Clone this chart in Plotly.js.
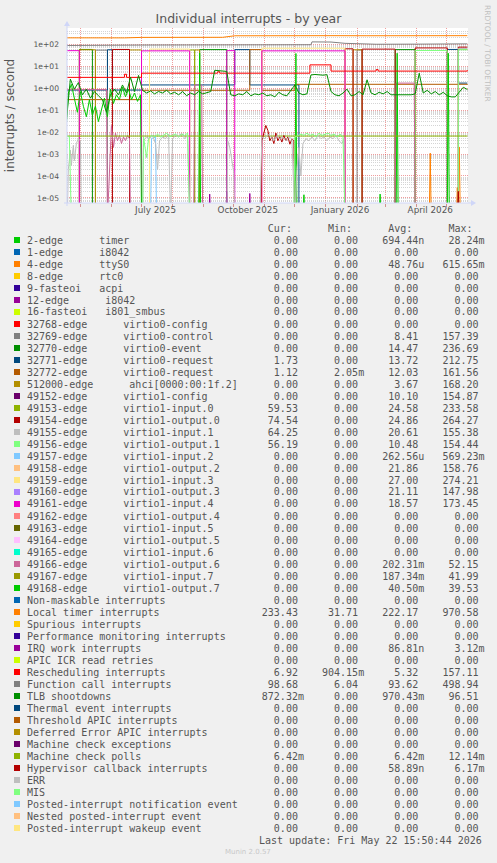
<!DOCTYPE html>
<html><head><meta charset="utf-8">
<script src="https://cdn.plot.ly/plotly-3.0.1.min.js"></script>
<style>html,body{margin:0;padding:0;background:#F0F0F0;}#chart{width:497px;height:863px;}</style>
</head><body><div id="chart"></div>
<script>
// ---------------- DATA ----------------
const SERIES_NAMES = [
 '2-edge      timer','1-edge      i8042','4-edge      ttyS0','8-edge      rtc0','9-fasteoi   acpi',
 '12-edge      i8042','16-fasteoi   i801_smbus','32768-edge      virtio0-config','32769-edge      virtio0-control',
 '32770-edge      virtio0-event','32771-edge      virtio0-request','32772-edge      virtio0-request',
 '512000-edge      ahci[0000:00:1f.2]','49152-edge      virtio1-config','49153-edge      virtio1-input.0',
 '49154-edge      virtio1-output.0','49155-edge      virtio1-input.1','49156-edge      virtio1-output.1',
 '49157-edge      virtio1-input.2','49158-edge      virtio1-output.2','49159-edge      virtio1-input.3',
 '49160-edge      virtio1-output.3','49161-edge      virtio1-input.4','49162-edge      virtio1-output.4',
 '49163-edge      virtio1-input.5','49164-edge      virtio1-output.5','49165-edge      virtio1-input.6',
 '49166-edge      virtio1-output.6','49167-edge      virtio1-input.7','49168-edge      virtio1-output.7',
 'Non-maskable interrupts','Local timer interrupts','Spurious interrupts','Performance monitoring interrupts',
 'IRQ work interrupts','APIC ICR read retries','Rescheduling interrupts','Function call interrupts',
 'TLB shootdowns','Thermal event interrupts','Threshold APIC interrupts','Deferred Error APIC interrupts',
 'Machine check exceptions','Machine check polls','Hypervisor callback interrupts','ERR','MIS',
 'Posted-interrupt notification event','Nested posted-interrupt event','Posted-interrupt wakeup event'];
const SERIES_COLORS = ['#00CC00','#0066B3','#FF8000','#FFCC00','#330099','#990099','#CCFF00','#FF0000','#808080','#008F00',
 '#00487D','#B35A00','#B38F00','#6B006B','#8FB300','#B30000','#BEBEBE','#80FF80','#80C9FF','#FFC080',
 '#FFE680','#AA80FF','#EE00CC','#FF8080','#666600','#FFBFFF','#00FFCC','#CC6699','#999900','#00CC00',
 '#0066B3','#FF8000','#FFCC00','#330099','#990099','#CCFF00','#FF0000','#808080','#008F00','#00487D',
 '#B35A00','#B38F00','#6B006B','#8FB300','#B30000','#BEBEBE','#80FF80','#80C9FF','#FFC080','#FFE680'];
const STAT_CUR = ['0.00','0.00','0.00','0.00','0.00','0.00','0.00','0.00','0.00','0.00','1.73','1.12','0.00','0.00',
 '59.53','74.54','64.25','56.19','0.00','0.00','0.00','0.00','0.00','0.00','0.00','0.00','0.00','0.00','0.00','0.00',
 '0.00','233.43','0.00','0.00','0.00','0.00','6.92','98.68','872.32m','0.00','0.00','0.00','0.00','6.42m','0.00',
 '0.00','0.00','0.00','0.00','0.00'];
const STAT_MIN = ['0.00','0.00','0.00','0.00','0.00','0.00','0.00','0.00','0.00','0.00','0.00','2.05m','0.00','0.00',
 '0.00','0.00','0.00','0.00','0.00','0.00','0.00','0.00','0.00','0.00','0.00','0.00','0.00','0.00','0.00','0.00',
 '0.00','31.71','0.00','0.00','0.00','0.00','904.15m','6.04','0.00','0.00','0.00','0.00','0.00','0.00','0.00',
 '0.00','0.00','0.00','0.00','0.00'];
const STAT_AVG = ['694.44n','0.00','48.76u','0.00','0.00','0.00','0.00','0.00','8.41','14.47','13.72','12.03','3.67','10.10',
 '24.58','24.86','20.61','10.48','262.56u','21.86','27.00','21.11','18.57','0.00','0.00','0.00','0.00','202.31m','187.34m','40.50m',
 '0.00','222.17','0.00','0.00','86.81n','0.00','5.32','93.62','970.43m','0.00','0.00','0.00','0.00','6.42m','58.89n',
 '0.00','0.00','0.00','0.00','0.00'];
const STAT_MAX = ['28.24m','0.00','615.65m','0.00','0.00','0.00','0.00','0.00','157.39','236.69','212.75','161.56','168.20','154.87',
 '233.58','264.27','155.38','154.44','569.23m','158.76','274.21','147.98','173.45','0.00','0.00','0.00','0.00','52.15','41.99','39.53',
 '0.00','970.58','0.00','0.00','3.12m','0.00','157.11','498.94','96.51','0.00','0.00','0.00','0.00','12.14m','6.17m',
 '0.00','0.00','0.00','0.00','0.00'];

const X_START = '2025-04-17 15:50';
const X_END = '2026-05-22 15:50';
const X_LABEL_AT = ['2025-07-15','2025-10-15','2026-01-15','2026-04-15'];
const X_LABELS = ['July 2025','October 2025','January 2026','April 2026'];
const MONTH_STARTS = ['2025-05-01','2025-06-01','2025-07-01','2025-08-01','2025-09-01','2025-10-01','2025-11-01','2025-12-01',
 '2026-01-01','2026-02-01','2026-03-01','2026-04-01','2026-05-01'];
const Y_TICKS = [1e-5,1e-4,1e-3,1e-2,1e-1,1,10,100];
const Y_LABELS = ['1e-05','1e-04','1e-03','1e-02','1e-01','1e+00','1e+01','1e+02'];

// 2-edge timer (tiny spikes)
const timerT = ['2025-04-17','2025-08-27','2025-08-28','2025-08-29','2025-12-09','2025-12-10','2025-12-11','2026-02-23','2026-02-24','2026-02-25','2026-05-22'];
const timerV = [0,0,1.3e-5,0,0,1.4e-5,0,0,1.5e-5,0,0];
// 4-edge ttyS0
const ttyT = ['2025-04-17','2026-04-14','2026-04-15','2026-04-16','2026-05-11','2026-05-12','2026-05-13','2026-05-14','2026-05-15','2026-05-22'];
const ttyV = [0,0,1.1e-3,0,0,3e-5,0,2.1e-3,0,0];
// 32769 virtio0-control (steps)
const vctlT = ['2025-04-17','2025-05-16','2025-05-28','2026-02-01','2026-02-06','2026-05-22'];
const vctlV = [0,54,0,55,0,0];
// 32770 virtio0-event (steps)
const vevT = ['2025-04-17','2025-04-30','2025-05-13','2025-08-28','2025-09-24','2026-03-11','2026-03-31','2026-05-22'];
const vevV = [0,58,0,57,0,57,0,0];
// 32771 virtio0-request (steps)
const vr1T = ['2025-04-17','2025-05-28','2025-06-02','2025-07-01','2025-10-02','2025-10-17','2025-12-05','2026-05-02','2026-05-13','2026-05-22'];
const vr1V = [0.82,56,0.82,1.4,57,1.4,0,58,1.7,1.7];
// 32772 virtio0-request (steps)
const vr2T = ['2025-04-17','2025-07-01','2025-10-17','2025-10-29','2025-12-01','2026-05-22'];
const vr2V = [0.3,0.8,57,0.8,1.5,1.4];
// 512000 ahci (steps)
const ahciT = ['2025-04-17','2025-04-30','2025-05-16','2025-06-19','2025-07-01','2025-08-23','2025-08-28','2026-01-28','2026-02-06','2026-05-22'];
const ahciV = [0,56,0,55,0,55,0,56,0,0];
// 49153 input.0 (steps)
const in0T = ['2025-04-17','2025-08-18','2025-08-23','2026-05-13','2026-05-22'];
const in0V = [0,55,0,60,60];
// 49154 output.0 (steps)
const out0T = ['2025-04-17','2025-06-02','2025-06-19','2026-01-20','2026-01-28','2026-02-06','2026-03-11','2026-03-31','2026-05-02','2026-05-13','2026-05-22'];
const out0V = [0,58,0,62,0,60,0,68,0,74,74];
// 49155 input.1 (steps)
const in1T = ['2025-04-17','2026-05-13','2026-05-22'];
const in1V = [0,64,64];
// 49156 output.1 (steps)
const out1T = ['2025-04-17','2026-03-31','2026-05-02','2026-05-13','2026-05-22'];
const out1V = [0,52,0,56,56];
// 49157 input.2
const in2T = ['2025-04-17','2025-07-10','2025-07-11','2025-07-15','2025-07-16','2026-05-22'];
const in2V = [0,0,0.005,0.006,0,0];
// 49159 input.3 (steps)
const in3T = ['2025-04-17','2025-07-09','2025-08-18','2025-10-29','2026-01-20','2026-05-22'];
const in3V = [0,60,0,66,0,0];
// 49161 input.4 (steps)
const in4T = ['2025-04-17','2025-04-30','2025-07-01','2025-08-18','2025-09-24','2025-10-02','2025-10-29','2026-01-20','2026-05-22'];
const in4V = [51,0,50,0,51,0,50,0,0];
// 49166 output.6
const out6T = ['2025-04-17','2025-04-25','2025-05-05','2025-05-15','2025-05-27','2025-05-28','2025-06-01','2025-06-03','2025-06-05',
 '2025-06-07','2025-06-09','2025-06-11','2025-06-13','2025-06-15','2025-06-17','2025-06-19','2025-06-20','2025-08-22','2025-08-23',
 '2025-08-30','2025-08-31','2026-03-11','2026-03-12','2026-03-30','2026-03-31','2026-05-22'];
const out6V = [0.85,0.87,0.84,0.86,0.85,0,0.02,0.002,0.009,0.004,0.007,0.003,0.006,0.004,0.007,0.005,0,0,1.4,1.4,0,0,1.7,1.7,0,0];
// 49168 output.7
const out7T = ['2025-04-17','2025-04-19','2025-04-22','2025-04-25','2025-04-28','2025-05-01','2025-05-04','2025-05-07','2025-05-10',
 '2025-05-13','2025-05-16','2025-05-19','2025-05-22','2025-05-25','2025-05-28','2025-05-31','2025-06-03','2025-06-06','2025-06-09',
 '2025-06-12','2025-06-15','2025-06-18','2025-06-21','2025-06-24','2025-06-27','2025-06-30','2025-07-01',
 '2025-08-27','2025-08-28','2025-08-29','2025-12-01','2025-12-02','2025-12-03','2026-03-12','2026-03-13','2026-03-14',
 '2026-05-02','2026-05-03','2026-05-04','2026-05-22'];
const out7V = [0.02,0.6,1.5,0.3,0.08,0.7,0.15,0.05,0.3,0.06,0.15,0.03,0.12,0.35,0.05,0.9,0.2,0.5,0.3,1.1,0.4,0.9,0.3,0.6,0.25,0.5,0,
 0,39,0,0,38,0,0,39,0,0,39,0,0];
// Local timer interrupts
const ltT = ['2025-04-17','2025-05-05','2025-05-25','2025-06-14','2025-07-01','2025-07-20','2025-08-10','2025-09-01','2025-09-20',
 '2025-10-02','2025-10-25','2025-11-20','2025-12-18','2025-12-19','2026-01-07','2026-01-08','2026-02-10','2026-03-15','2026-04-15','2026-05-22'];
const ltV = [196,194,198,195,205,203,206,204,207,243,245,242,244,264,262,246,244,247,245,246];
// IRQ work interrupts
const irqT = ['2025-04-17','2025-09-06','2025-09-07','2025-09-08','2025-09-23','2025-09-24','2025-09-25','2025-10-16','2025-10-17','2025-10-18','2026-05-22'];
const irqV = [0,0,1.5e-5,0,0,2e-5,0,0,1.6e-5,0,0];
// Rescheduling interrupts (steps)
const reschedT = ['2025-04-17','2025-06-14','2025-06-16','2025-07-01','2025-09-15','2025-09-17','2025-12-16','2026-01-06','2026-02-20','2026-02-22','2026-05-22'];
const reschedV = [3.1,4.3,3.1,4.8,5.6,4.8,11.5,6.0,7.0,6.0,6.6];
// Function call interrupts
const fcT = ['2025-04-17','2025-05-20','2025-06-25','2025-07-01','2025-08-15','2025-10-02','2025-11-10','2025-12-17','2025-12-18',
 '2026-01-06','2026-01-20','2026-02-20','2026-04-01','2026-05-22'];
const fcV = [88,87,89,92,93,95,94,95,128,126,110,100,101,104];
// TLB shootdowns, one reading every 4 days from 2025-04-17
const TLB_START = '2025-04-17';
const TLB_STEP_DAYS = 4;
const tlbV = [0.03,2.6,0.9,1.8,0.5,0.9,0.35,0.7,0.45,0.3,0.08,0.5,0.9,0.5,1.4,0.6,3.2,0.7,3.8,
 0.8,0.6,0.75,0.55,0.7,0.6,0.8,0.55,0.65,0.5,0.7,0.45,0.6,0.5,0.7,0.55,
 0.6,0.7,6.5,6.2,6.0,5.8,
 0.5,0.45,0.55,0.5,0.7,0.45,0.55,0.5,0.6,0.45,0.5,0.4,0.65,0.5,0.45,0.8,1.4,0.6,0.5,0.55,
 4.0,4.2,4.0,3.9,4.1,0.7,
 0.5,0.45,0.6,0.9,0.45,0.5,0.7,0.5,2.4,0.6,0.5,0.65,0.55,0.7,0.5,0.5,0.5,0.5,0.5,0.5,
 0.55,4.8,0.6,0.8,0.55,0.7,0.5,0.65,0.45,0.4,0.4,0.7,1.1,0.87];
// Machine check polls
const mcpT = ['2025-04-17','2026-05-22'];
const mcpV = [0.0066,0.0066];
// Hypervisor callback interrupts
const hvT = ['2025-04-17','2025-10-28','2025-10-29','2025-10-31','2025-11-02','2025-11-04','2025-11-06','2025-11-08','2025-11-10',
 '2025-11-12','2025-11-14','2025-11-16','2025-11-18','2025-11-20','2025-11-22','2025-11-24','2025-11-26','2025-11-28','2025-11-30',
 '2025-12-01','2026-05-12','2026-05-13','2026-05-14','2026-05-22'];
const hvV = [0,0,0.004,0.008,0.02,0.012,0.004,0.006,0.003,0.009,0.004,0.006,0.0035,0.007,0.004,0.006,0.0028,0.005,0.004,0,0,2e-5,0,0];
// ERR
const errT = ['2025-04-17','2025-04-18','2025-04-19','2025-04-21','2025-04-22','2025-04-24','2025-04-25','2025-04-27','2025-04-29',
 '2025-05-01','2025-05-02','2025-07-02','2025-07-03','2025-07-06','2025-07-09','2025-07-12','2025-07-15','2025-07-17','2025-07-19',
 '2025-07-22','2025-07-25','2025-07-28','2025-07-30','2025-08-01','2025-08-04','2025-08-07','2025-08-10','2025-08-13','2025-08-16',
 '2025-08-18','2025-09-24','2025-09-25','2025-09-27','2025-09-29','2025-10-01','2025-10-02','2025-10-27','2025-10-29','2025-11-01',
 '2025-11-04','2025-11-07','2025-11-10','2025-11-13','2025-11-16','2025-11-19','2025-11-22','2025-11-25','2025-11-28','2025-12-01',
 '2025-12-03','2025-12-05','2025-12-07','2025-12-09','2025-12-12','2025-12-15','2025-12-18','2025-12-21','2025-12-24','2025-12-27',
 '2025-12-30','2026-01-02','2026-01-05','2026-01-08','2026-01-11','2026-01-14','2026-01-17','2026-01-19','2026-01-20','2026-05-22'];
const errV = [0,0,2e-4,1.5e-3,3e-4,2.5e-3,5e-4,3e-3,5e-3,4e-3,0,0,0.004,0.006,0.005,0.007,0.003,0.0002,0.004,
 0.006,0.005,0.008,0,0.005,0.007,0.006,0.009,0.005,0.007,
 0,0,0.004,0.002,0.0006,0.00015,0,0,0.006,0.005,
 0.008,0.006,0.004,0.007,0.005,0.006,0.004,0.006,0.005,0,
 0.0002,0.002,0.0001,0.003,0.005,0.004,0.006,0.004,0.007,0.005,
 0.006,0.004,0.006,0.005,0.007,0.004,0.003,0.005,0,0];
// MIS
const misT = ['2025-04-17','2025-04-20','2025-04-22','2025-07-02','2025-07-03','2025-07-06','2025-07-08','2025-07-11','2025-07-14',
 '2025-07-17','2025-07-20','2025-07-23','2025-07-26','2025-07-29','2025-08-01','2025-08-04','2025-08-07','2025-08-10','2025-08-13',
 '2025-08-16','2025-08-18','2025-11-30','2025-12-01','2025-12-04','2025-12-07','2025-12-10','2025-12-13','2025-12-16','2025-12-19',
 '2025-12-22','2025-12-25','2025-12-28','2025-12-31','2026-01-03','2026-01-06','2026-01-09','2026-01-12','2026-01-15','2026-01-18',
 '2026-01-20','2026-05-22'];
const misV = [0.007,0.006,0,0,0.006,0.0007,0.005,0.007,0.006,0.008,0.006,0.007,0.009,0.006,0.007,0.008,0.006,0.008,0.007,
 0.009,0,0,0.006,0.007,0.008,0.007,0.009,0.007,0.008,0.006,0.009,0.007,0.008,0.009,0.007,0.008,0.006,0.008,0.006,0,0];

// ---------------- DRAWING ----------------
const ZERO_DRAWN_AT = 1e-6; // zero sits below the log range, as rrdtool drops it to the bottom
function tlbDates() {
  const out = []; const d0 = new Date(TLB_START + 'T00:00:00Z');
  for (let i = 0; i < tlbV.length; i++) { const d = new Date(d0.getTime() + i * TLB_STEP_DAYS * 86400000); out.push(d.toISOString().slice(0,10)); }
  return out;
}
const SERIES = {
  0:{t:timerT,v:timerV,s:'linear'}, 2:{t:ttyT,v:ttyV,s:'linear'}, 8:{t:vctlT,v:vctlV,s:'hv'}, 9:{t:vevT,v:vevV,s:'hv'},
  10:{t:vr1T,v:vr1V,s:'hv'}, 11:{t:vr2T,v:vr2V,s:'hv'}, 12:{t:ahciT,v:ahciV,s:'hv'}, 14:{t:in0T,v:in0V,s:'hv'},
  15:{t:out0T,v:out0V,s:'hv'}, 16:{t:in1T,v:in1V,s:'hv'}, 17:{t:out1T,v:out1V,s:'hv'}, 18:{t:in2T,v:in2V,s:'linear'},
  20:{t:in3T,v:in3V,s:'hv'}, 22:{t:in4T,v:in4V,s:'hv'}, 27:{t:out6T,v:out6V,s:'linear'}, 29:{t:out7T,v:out7V,s:'linear'},
  31:{t:ltT,v:ltV,s:'linear'}, 34:{t:irqT,v:irqV,s:'linear'}, 36:{t:reschedT,v:reschedV,s:'hv'}, 37:{t:fcT,v:fcV,s:'linear'},
  38:{t:tlbDates(),v:tlbV,s:'linear'}, 43:{t:mcpT,v:mcpV,s:'linear'}, 44:{t:hvT,v:hvV,s:'linear'},
  45:{t:errT,v:errV,s:'linear'}, 46:{t:misT,v:misV,s:'linear'}
};
const traces = [];
for (let i = 0; i < SERIES_NAMES.length; i++) {
  const s = SERIES[i]; if (!s) continue;
  traces.push({type:'scatter', mode:'lines', x:s.t, y:s.v.map(v => v > 0 ? v : ZERO_DRAWN_AT),
    line:{color:SERIES_COLORS[i], width:1, shape:s.s}, hoverinfo:'skip', showlegend:false, name:SERIES_NAMES[i]});
}

const PL = 67, PR = 468, PT = 28, PB = 203, W = 497, H = 863;
const px = x => (x - PL) / (PR - PL);
const py = y => (PB - y) / (PB - PT);
const NB = s => s.replace(/ /g, '\u00a0');
const TXT = '#555555';
const MONO = 'DejaVu Sans Mono';

function field(s) {
  const last = s.slice(-1);
  if (/[a-z]/i.test(last)) return s.slice(0,-1).padStart(9) + last;
  return s.padStart(9) + ' ';
}
const annotations = [];
const shapes = [];
const ROW0 = 240, ROWH = 12;
annotations.push({xref:'paper', yref:'paper', x:px(26), y:py(228), xanchor:'left', yanchor:'middle', showarrow:false, borderpad:0,
  text:NB(' '.repeat(40)+'Cur:'+' '.repeat(6)+'Min:'+' '.repeat(6)+'Avg:'+' '.repeat(6)+'Max:'), font:{family:MONO,size:10,color:TXT}});
for (let i = 0; i < SERIES_NAMES.length; i++) {
  const yc = ROW0 + ROWH * i;
  const line = SERIES_NAMES[i].padEnd(36) + field(STAT_CUR[i]) + field(STAT_MIN[i]) + field(STAT_AVG[i]) + field(STAT_MAX[i]);
  annotations.push({xref:'paper', yref:'paper', x:px(26), y:py(yc), xanchor:'left', yanchor:'middle', showarrow:false, borderpad:0,
    text:NB(line), font:{family:MONO,size:10,color:TXT}});
  shapes.push({type:'rect', xref:'paper', yref:'paper', x0:px(14), x1:px(20), y0:py(yc-3), y1:py(yc+3),
    fillcolor:SERIES_COLORS[i], line:{width:0}, layer:'above'});
}
annotations.push({xref:'paper', yref:'paper', x:px(483), y:py(840), xanchor:'right', yanchor:'middle', showarrow:false, borderpad:0,
  text:NB('Last update: Fri May 22 15:50:44 2026'), font:{family:MONO,size:10,color:TXT}});
annotations.push({xref:'paper', yref:'paper', x:px(248), y:py(852), xanchor:'center', yanchor:'middle', showarrow:false, borderpad:0,
  text:'Munin 2.0.57', font:{family:'DejaVu Sans',size:7,color:'#C8C8C8'}});
annotations.push({xref:'paper', yref:'paper', x:px(488), y:py(53), xanchor:'center', yanchor:'middle', showarrow:false, borderpad:0,
  textangle:90, text:'RRDTOOL / TOBI OETIKER', font:{family:'DejaVu Sans',size:7.5,color:'#C0C0C0'}});

// axis lines and arrows (rrdtool style)
const AX = '#CFD6F8';
shapes.push({type:'line', xref:'paper', yref:'paper', x0:px(64), x1:px(472), y0:py(203), y1:py(203), line:{color:AX,width:1}, layer:'above'});
shapes.push({type:'line', xref:'paper', yref:'paper', x0:px(67), x1:px(67), y0:py(206), y1:py(24), line:{color:AX,width:1}, layer:'above'});
shapes.push({type:'path', xref:'paper', yref:'paper', path:`M ${px(471)} ${py(200)} L ${px(476)} ${py(203)} L ${px(471)} ${py(206)} Z`, fillcolor:AX, line:{width:0}, layer:'above'});
shapes.push({type:'path', xref:'paper', yref:'paper', path:`M ${px(64)} ${py(26)} L ${px(67)} ${py(21)} L ${px(70)} ${py(26)} Z`, fillcolor:AX, line:{width:0}, layer:'above'});

const minorY = [];
for (let e = -6; e <= 2; e++) for (let m = 2; m <= 9; m++) minorY.push(m * Math.pow(10, e));

const layout = {
  width:W, height:H, paper_bgcolor:'#F0F0F0', plot_bgcolor:'#FFFFFF',
  margin:{l:PL, r:W-PR, t:PT, b:H-PB, pad:0},
  title:{text:'Individual interrupts - by year', x:248.5/W, xref:'container', xanchor:'center', y:1-19/H, yref:'container', yanchor:'middle',
    font:{family:'DejaVu Sans', size:12.5, color:TXT}},
  showlegend:false,
  xaxis:{type:'date', range:[X_START, X_END], tickmode:'array', tickvals:X_LABEL_AT, ticktext:X_LABELS, ticks:'', showgrid:false,
    zeroline:false, showline:false, tickfont:{family:'DejaVu Sans', size:8.8, color:TXT},
    minor:{tickmode:'array', tickvals:MONTH_STARTS, showgrid:true, gridcolor:'rgba(225,60,60,0.5)', griddash:'1px,1px', gridwidth:1,
      ticks:'outside', ticklen:3, tickcolor:'rgba(200,120,120,0.8)'}},
  yaxis:{type:'log', range:[-5.23, 2.74], tickmode:'array', tickvals:Y_TICKS, ticktext:Y_LABELS, ticks:'', showgrid:true,
    gridcolor:'rgba(225,60,60,0.5)', griddash:'1px,1px', gridwidth:1, zeroline:false, showline:false, ticklabelstandoff:7,
    tickfont:{family:'DejaVu Sans', size:7.6, color:TXT},
    title:{text:'interrupts / second', font:{family:'DejaVu Sans', size:12, color:TXT}, standoff:16},
    minor:{tickmode:'array', tickvals:minorY, showgrid:true, gridcolor:'rgba(150,150,150,0.4)', griddash:'1px,1px', gridwidth:1, ticks:''}},
  annotations:annotations, shapes:shapes
};
Plotly.newPlot('chart', traces, layout, {staticPlot:true, displayModeBar:false});
</script></body></html>
